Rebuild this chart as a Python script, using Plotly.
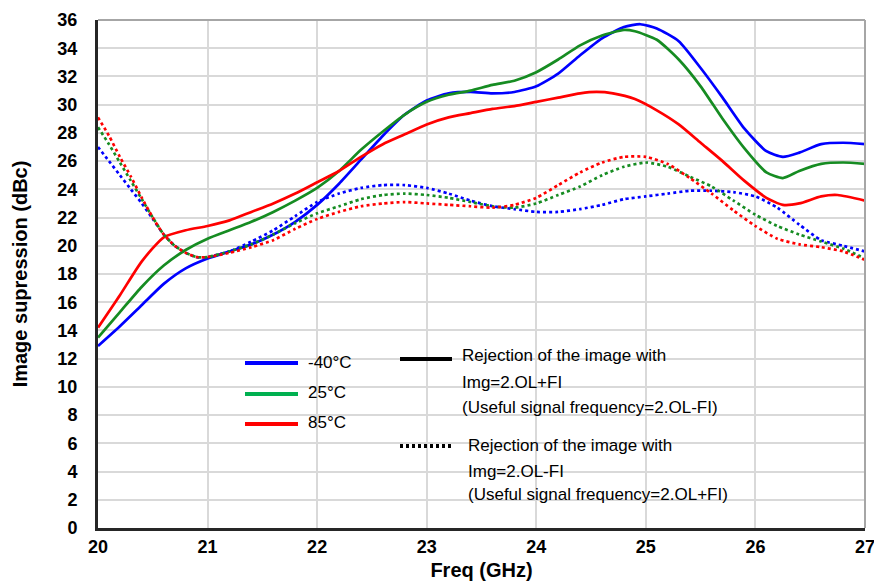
import plotly.graph_objects as go

# ---------------- data ----------------
freq_solid_m40 = [20.0, 20.2, 20.4, 20.6, 20.8, 21.0, 21.2, 21.4, 21.6, 21.8, 22.0, 22.2, 22.4, 22.6, 22.8,
                  23.0, 23.2, 23.4, 23.6, 23.8, 24.0, 24.2, 24.4, 24.6, 24.8, 24.95, 25.1, 25.3, 25.5, 25.7,
                  25.9, 26.1, 26.25, 26.4, 26.6, 26.8, 27.0]
solid_m40 = [12.9, 14.3, 15.8, 17.3, 18.4, 19.1, 19.6, 20.1, 20.8, 21.7, 22.9, 24.4, 26.1, 27.8, 29.3,
             30.3, 30.8, 30.9, 30.8, 30.9, 31.3, 32.2, 33.5, 34.7, 35.5, 35.7, 35.4, 34.5, 32.6, 30.5,
             28.3, 26.7, 26.3, 26.6, 27.2, 27.3, 27.2]

freq_solid_25 = [20.0, 20.2, 20.4, 20.6, 20.8, 21.0, 21.2, 21.4, 21.6, 21.8, 22.0, 22.2, 22.4, 22.6, 22.8,
                 23.0, 23.2, 23.4, 23.6, 23.8, 24.0, 24.2, 24.4, 24.6, 24.8, 24.9, 25.1, 25.3, 25.5, 25.7,
                 25.9, 26.1, 26.25, 26.4, 26.6, 26.8, 27.0]
solid_25 = [13.5, 15.3, 17.1, 18.6, 19.7, 20.5, 21.1, 21.7, 22.4, 23.2, 24.1, 25.3, 26.8, 28.1, 29.3,
            30.2, 30.7, 31.0, 31.4, 31.7, 32.3, 33.2, 34.2, 34.9, 35.3, 35.2, 34.6, 33.2, 31.3, 29.0,
            26.9, 25.2, 24.8, 25.3, 25.8, 25.9, 25.8]

freq_solid_85 = [20.0, 20.2, 20.4, 20.6, 20.8, 21.0, 21.2, 21.4, 21.6, 21.8, 22.0, 22.2, 22.4, 22.6, 22.8,
                 23.0, 23.2, 23.4, 23.6, 23.8, 24.0, 24.2, 24.4, 24.55, 24.7, 24.9, 25.1, 25.3, 25.5, 25.7,
                 25.9, 26.1, 26.25, 26.4, 26.6, 26.75, 27.0]
solid_85 = [14.2, 16.5, 18.9, 20.6, 21.1, 21.4, 21.8, 22.4, 23.0, 23.7, 24.5, 25.3, 26.3, 27.2, 27.9,
            28.6, 29.1, 29.4, 29.7, 29.9, 30.2, 30.5, 30.8, 30.9, 30.8, 30.4, 29.6, 28.6, 27.3, 26.0,
            24.6, 23.4, 22.9, 23.0, 23.5, 23.6, 23.2]

freq_dot = [20.0, 20.1, 20.2, 20.3, 20.4, 20.5, 20.6, 20.7, 20.8, 20.9, 21.0, 21.2, 21.4, 21.6, 21.8,
            22.0, 22.2, 22.4, 22.6, 22.8, 23.0, 23.2, 23.4, 23.6, 23.8, 24.0, 24.2, 24.4, 24.6, 24.8,
            25.0, 25.2, 25.4, 25.6, 25.8, 26.0, 26.2, 26.4, 26.6, 26.8, 27.0]
dot_m40 = [27.0, 26.0, 25.0, 24.0, 23.0, 21.9, 20.8, 20.0, 19.5, 19.2, 19.2, 19.6, 20.3, 21.1, 22.1,
           23.1, 23.7, 24.1, 24.3, 24.3, 24.1, 23.7, 23.2, 22.8, 22.6, 22.4, 22.4, 22.6, 22.9, 23.3,
           23.5, 23.7, 23.9, 23.9, 23.8, 23.5, 22.7, 21.5, 20.4, 20.0, 19.6]
dot_25 = [28.4, 27.2, 25.9, 24.6, 23.3, 22.0, 20.8, 20.0, 19.5, 19.2, 19.2, 19.6, 20.1, 20.8, 21.6,
          22.3, 22.8, 23.3, 23.6, 23.7, 23.6, 23.4, 23.1, 22.8, 22.7, 23.0, 23.6, 24.2, 25.0, 25.6,
          25.9, 25.6, 24.9, 24.2, 23.2, 22.2, 21.4, 20.8, 20.3, 19.8, 19.1]
dot_85 = [29.1, 27.8, 26.3, 24.9, 23.4, 22.0, 20.8, 20.0, 19.5, 19.2, 19.2, 19.5, 19.9, 20.4, 21.2,
          21.9, 22.4, 22.8, 23.0, 23.1, 23.0, 22.9, 22.8, 22.7, 22.9, 23.4, 24.3, 25.2, 25.9, 26.3,
          26.3, 25.8, 24.8, 23.7, 22.5, 21.4, 20.5, 20.1, 19.9, 19.6, 19.0]

x_ticks = [20, 21, 22, 23, 24, 25, 26, 27]
y_ticks = list(range(0, 37, 2))

temp_labels = ["-40°C", "25°C", "85°C"]
temp_colors = ["#0000ff", "#168c22", "#ff0000"]
legend_colors = ["#0000ff", "#00b050", "#ff0000"]
style_labels = [
    ["Rejection of the image with", "Img=2.OL+FI", "(Useful signal frequency=2.OL-FI)"],
    ["Rejection of the image with", "Img=2.OL-FI", "(Useful signal frequency=2.OL+FI)"],
]

# ---------------- figure ----------------
fig = go.Figure()

solid_sets = [(freq_solid_m40, solid_m40), (freq_solid_25, solid_25), (freq_solid_85, solid_85)]
dot_sets = [dot_m40, dot_25, dot_85]

for (xs, ys), col, name in zip(solid_sets, temp_colors, temp_labels):
    fig.add_trace(go.Scatter(x=xs, y=ys, mode="lines", name=name,
                             line=dict(color=col, width=2.7, shape="spline", smoothing=0.6),
                             showlegend=False))
for ys, col, name in zip(dot_sets, temp_colors, temp_labels):
    fig.add_trace(go.Scatter(x=freq_dot, y=ys, mode="lines", name=name + " (dotted)",
                             line=dict(color=col, width=2.7, dash="3px,3px", shape="spline", smoothing=0.6),
                             showlegend=False))

W, H = 874, 584
# plot area in page pixels: left 98, right 865, top 20, bottom 528
L, R, T, B = 98, 865, 20, 528
def px(xp):
    return (xp - L) / (R - L)
def py(yp):
    return (B - yp) / (B - T)

shapes = []
annotations = []
font_leg = dict(family="Liberation Sans, Arial, sans-serif", size=17, color="#000000")

# temperature legend
leg_y_lines = [363, 394, 424]
leg_y_text = [362, 392, 422]
for lab, col, yl, yt in zip(temp_labels, legend_colors, leg_y_lines, leg_y_text):
    shapes.append(dict(type="line", xref="paper", yref="paper", x0=px(245), x1=px(298),
                       y0=py(yl), y1=py(yl), line=dict(color=col, width=4)))
    annotations.append(dict(text=lab, xref="paper", yref="paper", x=px(306), y=py(yt),
                            xanchor="left", yanchor="middle", showarrow=False, font=font_leg))

# line-style legend
shapes.append(dict(type="line", xref="paper", yref="paper", x0=px(400), x1=px(452),
                   y0=py(359), y1=py(359), line=dict(color="black", width=4)))
shapes.append(dict(type="line", xref="paper", yref="paper", x0=px(400), x1=px(452),
                   y0=py(446), y1=py(446), line=dict(color="black", width=4, dash="3px,3px")))
for lines, xl, ys in zip(style_labels, [460, 466], [[356, 382, 407], [445, 471, 494]]):
    for t, yy in zip(lines, ys):
        annotations.append(dict(text=t, xref="paper", yref="paper", x=px(xl), y=py(yy),
                                xanchor="left", yanchor="middle", showarrow=False, font=font_leg))

# top / right light frame
shapes.append(dict(type="line", xref="paper", yref="paper", x0=0, x1=1, y0=1, y1=1,
                   line=dict(color="#a6a6a6", width=2)))
shapes.append(dict(type="line", xref="paper", yref="paper", x0=1, x1=1, y0=0, y1=1,
                   line=dict(color="#a6a6a6", width=2)))

tick_font = dict(family="Liberation Sans, Arial, sans-serif", size=18, color="#000000")
title_font = dict(family="Liberation Sans, Arial, sans-serif", size=20, color="#000000")

fig.update_layout(
    width=W, height=H,
    margin=dict(l=L, r=W - R, t=T, b=H - B, autoexpand=False),
    paper_bgcolor="white", plot_bgcolor="white",
    shapes=shapes, annotations=annotations,
    showlegend=False,
)
fig.update_xaxes(
    range=[20, 27], tickvals=x_ticks, ticktext=[f"<b>{v}</b>" for v in x_ticks],
    tickfont=tick_font, showgrid=True, gridcolor="#d9d9d9", gridwidth=1.5,
    showline=True, linecolor="#262626", linewidth=3, zeroline=False, ticks="",
    automargin=False, ticklabeloverflow="allow",
    title=dict(text="<b>Freq (GHz)</b>", font=title_font, standoff=8),
)
fig.update_yaxes(
    range=[0, 36], tickvals=y_ticks, ticktext=[f"<b>{v}</b>" for v in y_ticks],
    tickfont=tick_font, showgrid=True, gridcolor="#d9d9d9", gridwidth=1.5,
    showline=True, linecolor="#262626", linewidth=3, zeroline=False, ticks="",
    ticklabelstandoff=14, automargin=False, ticklabeloverflow="allow",
    title=dict(text="<b>Image supression (dBc)</b>", font=title_font, standoff=25),
)

fig.write_html("out.html", config={"displayModeBar": False},
               post_script="document.body.style.margin='0';document.body.style.overflow='hidden';")
